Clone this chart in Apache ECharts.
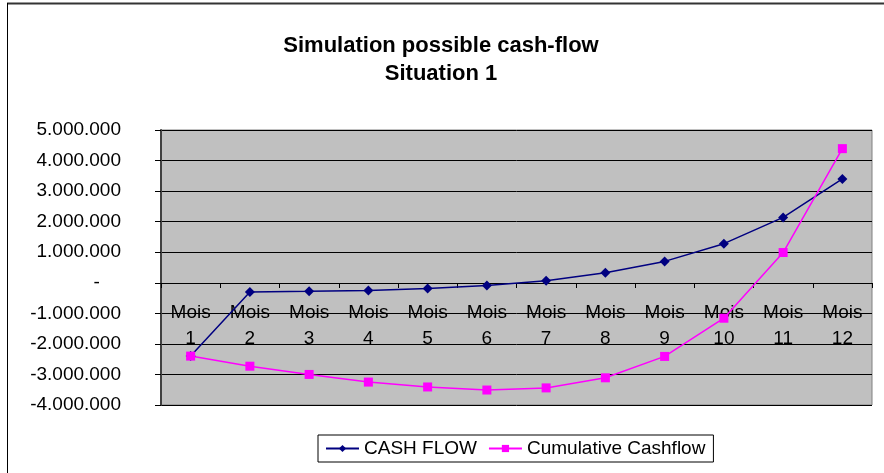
<!DOCTYPE html>
<html>
<head>
<meta charset="utf-8">
<script src="https://cdn.jsdelivr.net/npm/echarts@6/dist/echarts.min.js"></script>
<style>
	html,body{margin:0;padding:0;background:#fff;}
	#chart{width:884px;height:473px;}
</style>
</head>
<body>
<div id="chart"></div>
<script>
	// valeurs
	var months = ['Mois 1','Mois 2','Mois 3','Mois 4','Mois 5','Mois 6','Mois 7','Mois 8','Mois 9','Mois 10','Mois 11','Mois 12'];
	var cashFlow = [-2400000,-300000,-280000,-250000,-190000,-90000,70000,330000,700000,1280000,2140000,3400000];
	var cumulative = [-2400000,-2730000,-3000000,-3250000,-3410000,-3510000,-3440000,-3110000,-2410000,-1160000,990000,4390000];
	var yTicks = [-4000000,-3000000,-2000000,-1000000,0,1000000,2000000,3000000,4000000,5000000];

	var font = 'Liberation Sans, Arial, sans-serif';
	var gridTop = 130, gridBottom = 68, chartH = 473;

	function fmt(v){
		if(v==0) return '-    ';
		var s = String(Math.abs(v)).replace(/\B(?=(\d{3})+(?!\d))/g,'.');
		return (v<0?'-':'') + s;
	}

	// l'axe des mois est placé sur la ligne zéro
	var yMin = yTicks[0], yMax = yTicks[yTicks.length-1];
	var plotH = chartH - gridTop - gridBottom;
	var zeroOffset = -Math.round(plotH * (0 - yMin) / (yMax - yMin));

	var chart = echarts.init(document.getElementById('chart'));
	var option = {
		backgroundColor:'#fff',
		animation:false,
		title:{
			text:'Simulation possible cash-flow\nSituation 1',
			left:436,
			top:27,
			textAlign:'center',
			textStyle:{fontFamily:font,fontSize:22,fontWeight:'bold',color:'#000',lineHeight:28}
		},
		graphic:[
			{type:'line',shape:{x1:7,y1:3.5,x2:884,y2:3.5},style:{stroke:'#333',lineWidth:2}},
			{type:'line',shape:{x1:7.5,y1:3,x2:7.5,y2:473},style:{stroke:'#000',lineWidth:1}}
		],
		legend:{
			left:318,
			top:435,
			itemWidth:33,
			itemHeight:9,
			itemGap:11,
			padding:[4,8,4,7],
			borderColor:'#000',
			borderWidth:1,
			textStyle:{fontFamily:font,fontSize:19,color:'#000'},
			data:['CASH FLOW','Cumulative Cashflow']
		},
		grid:{
			left:161,
			right:12,
			top:gridTop,
			bottom:gridBottom,
			show:true,
			backgroundColor:'#C0C0C0',
			borderColor:'#808080',
			borderWidth:1
		},
		xAxis:{
			type:'category',
			data:months,
			boundaryGap:true,
			offset:zeroOffset,
			axisLine:{onZero:false,lineStyle:{color:'#000',width:1}},
			axisTick:{show:true,length:5,lineStyle:{color:'#000'}},
			axisLabel:{
				margin:17,
				fontFamily:font,
				fontSize:19,
				lineHeight:26,
				color:'#000',
				interval:0,
				formatter:function(v){return v.replace(' ','\n');}
			},
			splitLine:{show:false}
		},
		yAxis:{
			type:'value',
			min:yMin,
			max:yMax,
			interval:1000000,
			axisLine:{show:true,lineStyle:{color:'#404040',width:2}},
			axisTick:{show:true,length:6,lineStyle:{color:'#000'}},
			axisLabel:{margin:40,fontFamily:font,fontSize:19,color:'#000',formatter:fmt},
			splitLine:{show:true,lineStyle:{color:'#000',width:1}}
		},
		series:[{
			name:'CASH FLOW',
			type:'line',
			data:cashFlow,
			symbol:'diamond',
			symbolSize:10,
			color:'#000080',
			lineStyle:{color:'#000080',width:1.5},
			itemStyle:{color:'#000080'}
		},{
			name:'Cumulative Cashflow',
			type:'line',
			data:cumulative,
			symbol:'rect',
			symbolSize:9,
			color:'#FF00FF',
			lineStyle:{color:'#FF00FF',width:1.5},
			itemStyle:{color:'#FF00FF'}
		}]
	};
	chart.setOption(option);
</script>
</body>
</html>
